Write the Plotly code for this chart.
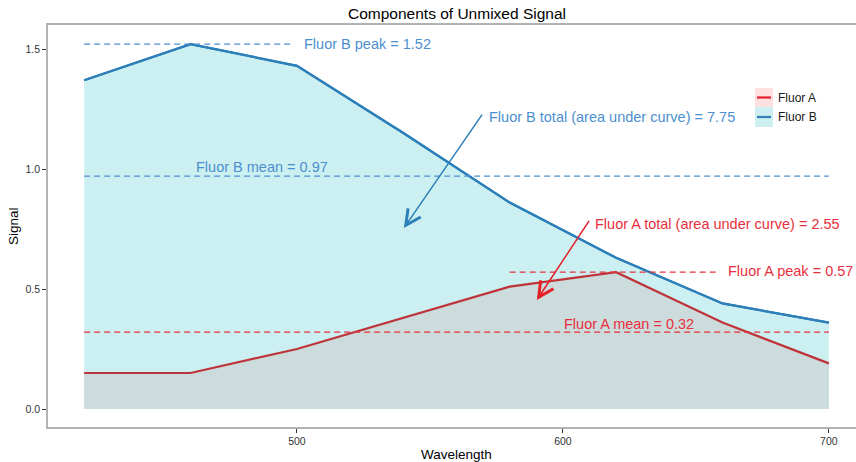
import plotly.graph_objects as go

# ---- data ----
wavelength = [420, 460, 500, 540, 580, 620, 660, 700]
fluor_a = [0.15, 0.15, 0.25, 0.38, 0.51, 0.57, 0.36, 0.19]
fluor_b = [1.37, 1.52, 1.43, 1.15, 0.86, 0.63, 0.44, 0.36]
series_names = ["Fluor A", "Fluor B"]

a_peak, a_mean, a_total = 0.57, 0.32, 2.55
b_peak, b_mean, b_total = 1.52, 0.97, 7.75

# ---- styles ----
B_LINE = "rgb(44,127,184)"
A_LINE = "rgb(190,52,58)"
B_FILL = "rgb(204,240,242)"
A_FILL = "rgb(204,219,219)"
B_TXT = "rgb(76,143,206)"
A_TXT = "rgb(232,48,60)"
FONT = "Liberation Sans, Arial, sans-serif"

W, H = 856, 462
ML, MR, MT, MB = 48, 0, 25, 35


def px(xp):
    return (xp - ML) / (W - ML - MR)


def py(yp):
    return 1 - (yp - MT) / (H - MT - MB)


fig = go.Figure()

fig.add_trace(go.Scatter(x=wavelength, y=fluor_b, mode="lines", fill="tozeroy",
                         fillcolor=B_FILL, line=dict(color=B_LINE, width=2.2),
                         name=series_names[1], showlegend=False))
fig.add_trace(go.Scatter(x=wavelength, y=fluor_a, mode="lines", fill="tozeroy",
                         fillcolor=A_FILL, line=dict(color=A_LINE, width=2.2),
                         name=series_names[0], showlegend=False))
# redraw B line above A fill
fig.add_trace(go.Scatter(x=wavelength, y=fluor_b, mode="lines",
                         line=dict(color=B_LINE, width=2.2),
                         showlegend=False, hoverinfo="skip"))

dash = "6px,4px"
x0, x1 = wavelength[0], wavelength[-1]
# reference lines
fig.add_trace(go.Scatter(x=[x0, 499], y=[b_peak, b_peak], mode="lines",
                         line=dict(color=B_TXT, width=1.3, dash=dash), showlegend=False))
fig.add_trace(go.Scatter(x=[x0, x1], y=[b_mean, b_mean], mode="lines",
                         line=dict(color=B_TXT, width=1.3, dash=dash), showlegend=False))
fig.add_trace(go.Scatter(x=[580, 659], y=[a_peak, a_peak], mode="lines",
                         line=dict(color=A_TXT, width=1.3, dash=dash), showlegend=False))
fig.add_trace(go.Scatter(x=[x0, x1], y=[a_mean, a_mean], mode="lines",
                         line=dict(color=A_TXT, width=1.3, dash=dash), showlegend=False))

ann = []
tf = dict(family=FONT, size=14.5)
ann.append(dict(x=502, y=b_peak, text=f"Fluor B peak = {b_peak:.2f}", xanchor="left",
                yanchor="middle", showarrow=False, font=dict(color=B_TXT, **tf)))
ann.append(dict(x=487, y=1.008, text=f"Fluor B mean = {b_mean:.2f}", xanchor="center",
                yanchor="middle", showarrow=False, font=dict(color=B_TXT, **tf)))
ann.append(dict(x=571.4, y=1.217, text=f"Fluor B total (area under curve) = {b_total:.2f}",
                xanchor="left", yanchor="middle", showarrow=False, font=dict(color=B_TXT, **tf)))
ann.append(dict(x=611.3, y=0.771, text=f"Fluor A total (area under curve) = {a_total:.2f}",
                xanchor="left", yanchor="middle", showarrow=False, font=dict(color=A_TXT, **tf)))
ann.append(dict(x=661.3, y=0.575, text=f"Fluor A peak = {a_peak:.2f}", xanchor="left",
                yanchor="middle", showarrow=False, font=dict(color=A_TXT, **tf)))
ann.append(dict(x=624.8, y=0.354, text=f"Fluor A mean = {a_mean:.2f}", xanchor="center",
                yanchor="middle", showarrow=False, font=dict(color=A_TXT, **tf)))
# arrows
ann.append(dict(x=540.2, y=0.754, ax=570, ay=1.233, axref="x", ayref="y", text="",
                showarrow=True, arrowhead=5, arrowsize=2, arrowwidth=1.5, arrowcolor=B_LINE))
ann.append(dict(x=590.2, y=0.454, ax=610.2, ay=0.79, axref="x", ayref="y", text="",
                showarrow=True, arrowhead=5, arrowsize=2, arrowwidth=1.5, arrowcolor="rgb(230,30,40)"))

# axis titles
ann.append(dict(xref="paper", yref="paper", x=px(456), y=py(454), text="Wavelength",
                xanchor="center", yanchor="middle", showarrow=False,
                font=dict(family=FONT, size=13.5, color="black")))
ann.append(dict(xref="paper", yref="paper", x=px(13), y=py(226), text="Signal",
                xanchor="center", yanchor="middle", showarrow=False, textangle=-90,
                font=dict(family=FONT, size=13.5, color="black")))

# manual legend
shapes = []
leg = [(series_names[0], "rgb(255,224,224)", "rgb(228,30,38)", 88, 107),
       (series_names[1], "rgb(204,240,242)", "rgb(55,126,184)", 107, 127)]
for name, kf, kl, t, b in leg:
    shapes.append(dict(type="rect", xref="paper", yref="paper", x0=px(755), x1=px(773),
                       y0=py(b), y1=py(t), fillcolor=kf, line=dict(width=0), layer="above"))
    shapes.append(dict(type="line", xref="paper", yref="paper", x0=px(757), x1=px(771),
                       y0=py((t + b) / 2), y1=py((t + b) / 2), line=dict(color=kl, width=2.2),
                       layer="above"))
    ann.append(dict(xref="paper", yref="paper", x=px(776), y=py((t + b) / 2), text=name,
                    xanchor="left", yanchor="middle", showarrow=False,
                    font=dict(family=FONT, size=12, color="#1a1a1a")))

axis_common = dict(showgrid=False, zeroline=False, showline=True, linecolor="#b3b3b3",
                   linewidth=1.5, ticks="outside", ticklen=4, tickcolor="#333333",
                   tickwidth=1, tickfont=dict(family=FONT, size=10.5, color="#333333"),
                   automargin=False)

fig.update_layout(
    width=W, height=H,
    margin=dict(l=ML, r=MR, t=MT, b=MB),
    paper_bgcolor="white", plot_bgcolor="white",
    title=dict(text="Components of Unmixed Signal", x=457 / W, xanchor="center",
               y=1 - 14 / H, yanchor="middle", font=dict(family=FONT, size=15.5, color="black")),
    xaxis=dict(range=[406.4, 710.2], tickvals=[500, 600, 700], mirror=True, **axis_common),
    yaxis=dict(range=[-0.075, 1.6], tickvals=[0, 0.5, 1.0, 1.5], tickformat=".1f",
               **axis_common),
    annotations=ann, shapes=shapes, showlegend=False,
)

fig.write_html("out.html", config={"displayModeBar": False},
               post_script="document.body.style.margin='0';document.body.style.overflow='hidden';")
